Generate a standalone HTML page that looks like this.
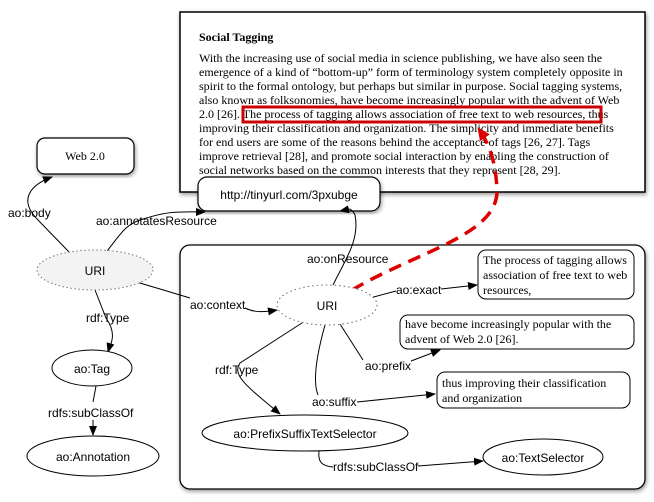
<!DOCTYPE html>
<html><head><style>
body{margin:0;background:#fff;width:654px;height:502px;overflow:hidden}
svg{display:block}
.s{font-family:"Liberation Sans",sans-serif;font-size:12px;fill:#000}
.r{font-family:"Liberation Serif",serif;font-size:12px;fill:#000}
</style></head><body>
<svg width="654" height="502" viewBox="0 0 654 502">
<defs>
<marker id="a" markerWidth="10" markerHeight="8" refX="9" refY="4" orient="auto" markerUnits="userSpaceOnUse"><path d="M0,0 L10,4 L0,8 z" fill="#000"/></marker>
<marker id="ra" markerWidth="14" markerHeight="12" refX="12" refY="6" orient="auto" markerUnits="userSpaceOnUse"><path d="M0,0 L13,6 L0,12 z" fill="#d00"/></marker>
<filter id="sh" x="-5%" y="-5%" width="110%" height="115%"><feDropShadow dx="1" dy="2" stdDeviation="2" flood-opacity="0.4"/></filter>
</defs>
<rect x="180" y="12" width="465" height="180" fill="#fff" stroke="#000" stroke-width="1.5" filter="url(#sh)"/>
<text x="199" y="41" class="r" font-weight="bold" font-size="11.5">Social Tagging</text>
<g class="r" font-size="12.1">
<text x="199" y="62">With the increasing use of social media in science publishing, we have also seen the</text>
<text x="199" y="76">emergence of a kind of “bottom-up” form of terminology system completely opposite in</text>
<text x="199" y="90">spirit to the formal ontology, but perhaps but similar in purpose. Social tagging systems,</text>
<text x="199" y="104">also known as folksonomies, have become increasingly popular with the advent of Web</text>
<text x="199" y="118">2.0 [26]. The process of tagging allows association of free text to web resources, thus</text>
<text x="199" y="132">improving their classification and organization. The simplicity and immediate benefits</text>
<text x="199" y="146">for end users are some of the reasons behind the acceptance of tags [26, 27]. Tags</text>
<text x="199" y="160">improve retrieval [28], and promote social interaction by enabling the construction of</text>
<text x="199" y="174">social networks based on the common interests that they represent [28, 29].</text>
</g>
<rect x="243" y="107" width="358" height="15" fill="none" stroke="#c00" stroke-width="3"/>
<rect x="180" y="245" width="465" height="244" rx="10" fill="#fff" stroke="#000" stroke-width="1.3" filter="url(#sh)"/>
<rect x="198" y="177" width="182" height="34" rx="9" fill="#fff" stroke="#000" stroke-width="1.2" filter="url(#sh)"/>
<text x="289" y="199" class="s" text-anchor="middle" font-size="12.5">http://tinyurl.com/3pxubge</text>
<rect x="37" y="138" width="97" height="36" rx="8" fill="#fff" stroke="#000" stroke-width="1.2" filter="url(#sh)"/>
<text x="85" y="160" class="r" text-anchor="middle">Web 2.0</text>
<g fill="none" stroke="#000" stroke-width="1">
<path d="M70,253 L38,220 C18,200 30,185 52,177" marker-end="url(#a)"/>
<path d="M107,251 C120,235 125,225 140,220"/>
<path d="M140,220 C170,210 180,212 205,212" marker-end="url(#a)"/>
<path d="M95,290 L106,318 C118,335 110,345 108,352" marker-end="url(#a)"/>
<path d="M96,386 L93,402 M93,420 L93,435" marker-end="url(#a)"/>
<path d="M130,280 L190,298"/>
<path d="M245,308 C255,313 265,312 277,310" marker-end="url(#a)"/>
<path d="M333,285 C345,260 360,240 355,215 C350,205 345,210 340,211" marker-end="url(#a)"/>
<path d="M370,298 L396,291"/>
<path d="M441,289 L477,285" marker-end="url(#a)"/>
<path d="M340,324 L363,360"/>
<path d="M411,361 L440,350" marker-end="url(#a)"/>
<path d="M325,325 C318,350 312,380 318,395"/>
<path d="M357,402 L435,394" marker-end="url(#a)"/>
<path d="M305,321 L240,363 C232,375 245,385 280,414" marker-end="url(#a)"/>
<path d="M319,451 C318,460 320,466 333,467"/>
<path d="M418,466 L483,461" marker-end="url(#a)"/>
</g>
<path d="M352,290 C420,250 500,235 497,188 C495,160 490,145 478,128" fill="none" stroke="#d00" stroke-width="3.5" stroke-dasharray="13,8" marker-end="url(#ra)"/>
<ellipse cx="95" cy="270" rx="58" ry="20" fill="#f3f3f3" stroke="#777" stroke-dasharray="1.5,2.5"/>
<text x="95" y="275" class="s" text-anchor="middle">URI</text>
<ellipse cx="92" cy="368" rx="40" ry="18" fill="#fff" stroke="#000"/>
<text x="92" y="373" class="s" text-anchor="middle">ao:Tag</text>
<ellipse cx="93" cy="456" rx="66" ry="20" fill="#fff" stroke="#000"/>
<text x="93" y="461" class="s" text-anchor="middle">ao:Annotation</text>
<g class="s">
<text x="8" y="217">ao:body</text>
<text x="96" y="225">ao:annotatesResource</text>
<text x="86" y="322">rdf:Type</text>
<text x="48" y="417">rdfs:subClassOf</text>
<text x="190" y="309">ao:context</text>
</g>
<ellipse cx="327" cy="305" rx="50" ry="20" fill="#fff" stroke="#666" stroke-dasharray="1.5,3"/>
<text x="327" y="310" class="s" text-anchor="middle">URI</text>
<ellipse cx="305" cy="433" rx="103" ry="18" fill="#fff" stroke="#000"/>
<text x="305" y="438" class="s" text-anchor="middle">ao:PrefixSuffixTextSelector</text>
<ellipse cx="543" cy="457" rx="60" ry="18" fill="#fff" stroke="#000"/>
<text x="543" y="462" class="s" text-anchor="middle">ao:TextSelector</text>
<rect x="478" y="250" width="156" height="49" rx="8" fill="#fff" stroke="#000"/>
<g class="r"><text x="483" y="264">The process of tagging allows</text><text x="483" y="279">association of free text to web</text><text x="483" y="294">resources,</text></g>
<rect x="400" y="315" width="234" height="34" rx="8" fill="#fff" stroke="#000"/>
<g class="r"><text x="405" y="328">have become increasingly popular with the</text><text x="405" y="343">advent of Web 2.0 [26].</text></g>
<rect x="437" y="372" width="193" height="36" rx="8" fill="#fff" stroke="#000"/>
<g class="r"><text x="442" y="387">thus improving their classification</text><text x="442" y="402">and organization</text></g>
<g class="s">
<text x="307" y="263">ao:onResource</text>
<text x="396" y="294">ao:exact</text>
<text x="365" y="370">ao:prefix</text>
<text x="312" y="406">ao:suffix</text>
<text x="215" y="374">rdf:Type</text>
<text x="333" y="471">rdfs:subClassOf</text>
</g>
</svg>
</body></html>
